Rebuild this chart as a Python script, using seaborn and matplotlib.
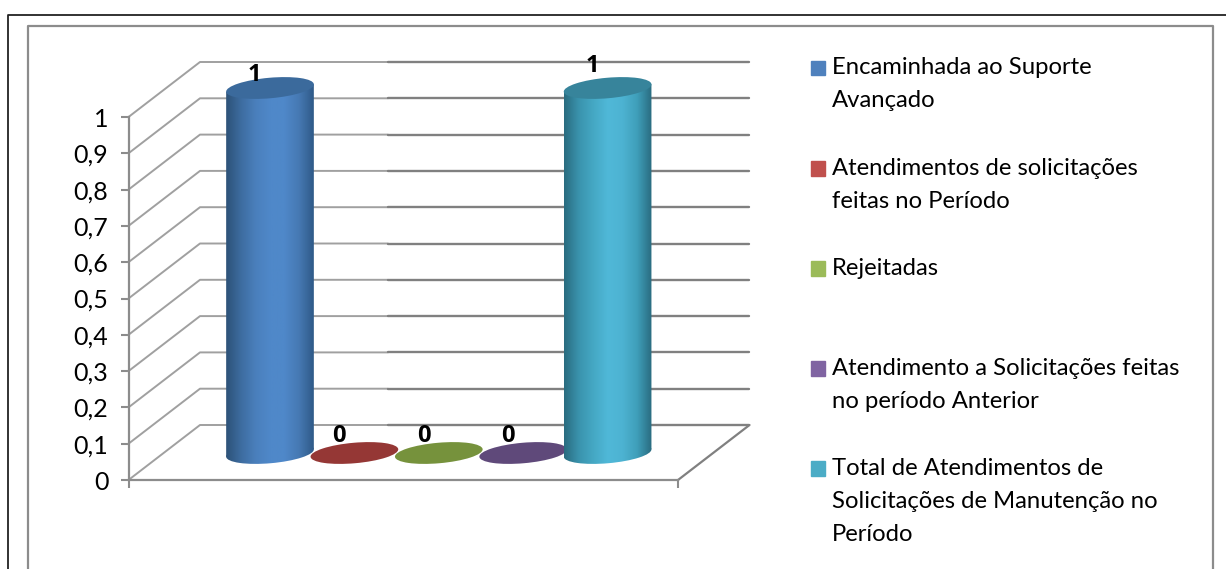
# 3D style cylinder chart, atendimentos no periodo
import numpy as np
import pandas as pd
import matplotlib
matplotlib.use('Agg')
import matplotlib.pyplot as plt
import seaborn as sns
from matplotlib.lines import Line2D
from matplotlib.patches import Ellipse, Patch, Polygon
from matplotlib.transforms import IdentityTransform

categories = ['Encaminhada ao Suporte\nAvançado',
              'Atendimentos de solicitações\nfeitas no Período',
              'Rejeitadas\n ',
              'Atendimento a Solicitações feitas\nno período Anterior',
              'Total de Atendimentos de\nSolicitações de Manutenção no\nPeríodo']
values = [1, 0, 0, 0, 1]
value_labels = ['1', '0', '0', '0', '1']
tick_vals = [0, 0.1, 0.2, 0.3, 0.4, 0.5, 0.6, 0.7, 0.8, 0.9, 1]
tick_labels = ['0', '0,1', '0,2', '0,3', '0,4', '0,5', '0,6', '0,7', '0,8', '0,9', '1']
legend_colors = ['#4f81bd', '#c0504d', '#9bbb59', '#8064a2', '#4bacc6']
top_colors = ['#3b6a9c', '#953735', '#76923c', '#5f497a', '#37849b']
body_ramps = [['#2d5278', '#3d6c9f', '#4a7fbc', '#4f88c9', '#4f88c9', '#4679b3', '#2f5a88'],
              ['#953735'] * 2, ['#76923c'] * 2, ['#5f497a'] * 2,
              ['#2a6c80', '#3a93ad', '#45a8c4', '#50b8d8', '#4db3d2', '#3f9fba', '#2a6c80']]
label_dy = [13, 17, 17, 17, 22]

W, H = 1226, 569
GREY = '#8c8c8c'

sns.set_theme(style='white')
plt.rcParams['font.family'] = ['Lato', 'DejaVu Sans']

fig = plt.figure(figsize=(W / 100, H / 100), dpi=100, facecolor='white')


def px_axes(x0, x1, y_bottom, y_top):
    return fig.add_axes([x0 / W, 1 - y_bottom / H, (x1 - x0) / W, (y_bottom - y_top) / H])


# front plane of the box, has the axis and the wall lines
ax = px_axes(128.5, 678, 480, 117)
ax.set_xlim(-0.5, 4.5)
ax.set_ylim(0, 1)
ax.set_yticks(tick_vals)
ax.set_yticklabels(tick_labels, fontsize=18, color='black')
ax.set_xticks([-0.5, 4.5])
ax.set_xticklabels([])
ax.tick_params(axis='both', length=5.5, width=1.5, color=GREY, left=True, bottom=True, pad=9)
for side in ['top', 'right']:
    ax.spines[side].set_visible(False)
for side in ['left', 'bottom']:
    ax.spines[side].set_color(GREY)
    ax.spines[side].set_linewidth(1.6)

depth_x = 71.5 / 109.9
depth_y = 55 / 363
split_x = 1.86
for t in tick_vals:
    ax.plot([-0.5, -0.5 + depth_x, split_x], [t, t + depth_y, t + depth_y],
            color='#a0a0a0', lw=1.4, clip_on=False, zorder=1)
    ax.plot([split_x, 4.5 + depth_x], [t + depth_y, t + depth_y],
            color='#808080', lw=1.7, clip_on=False, zorder=1)
ax.plot([4.5, 4.5 + depth_x], [0, depth_y], color='#808080', lw=1.6, clip_on=False, zorder=1)

# cylinders sit on their own plane inside the box
cx0, step, base_y, top_y = 270, 84.4, 453, 88
unit = base_y - top_y
ax2 = px_axes(cx0 - step, cx0 + 5 * step, base_y + 0.05 * unit, top_y - 0.05 * unit)
df = pd.DataFrame({'categoria': categories, 'valor': values})
sns.barplot(data=df, x='categoria', y='valor', hue='categoria', palette=legend_colors,
            width=1.04, dodge=False, saturation=1, legend=False, ax=ax2)
ax2.set_xlim(-1, 5)
ax2.set_ylim(-0.05, 1.05)
ax2.axis('off')

ell_w, ell_h, ell_angle = 88, 20.5, 5
tilt = np.array([np.cos(np.radians(ell_angle)), np.sin(np.radians(ell_angle))]) * ell_w / 2
for i, bar in enumerate(ax2.patches):
    x0 = bar.get_x()
    x1 = x0 + bar.get_width()
    v = bar.get_height()
    xc = (x0 + x1) / 2
    cmap = sns.blend_palette(body_ramps[i], as_cmap=True)
    grad = np.linspace(0, 1, 128).reshape(1, -1)
    z = 3 + i
    base_px = ax2.transData.transform((xc, 0))
    top_px = ax2.transData.transform((xc, v))
    bar.set_visible(False)
    if v > 0:
        # body follows the tilt of the caps so no corner pokes out
        base = Ellipse(base_px, ell_w, ell_h, angle=ell_angle, transform=IdentityTransform(),
                       facecolor='none', edgecolor='none')
        body = Polygon([base_px - tilt, base_px + tilt, top_px + tilt, top_px - tilt],
                       transform=IdentityTransform(), facecolor='none', edgecolor='none')
        ax2.add_artist(base)
        ax2.add_artist(body)
        for clip in [body, base]:
            im = ax2.imshow(grad, extent=(x0, x1, -0.05, 1.05), aspect='auto', cmap=cmap, zorder=z)
            im.set_clip_path(clip)
    cap = Ellipse(top_px, ell_w, ell_h, angle=ell_angle, transform=IdentityTransform(),
                  facecolor=top_colors[i], edgecolor='none', zorder=z + 0.5, clip_on=False)
    ax2.add_artist(cap)
    ax2.annotate(value_labels[i], (xc, v), xytext=(-11, label_dy[i] * 0.72), textcoords='offset points',
                 ha='center', va='center', fontsize=17, fontweight='bold', family='Open Sans',
                 color='black', zorder=20)
ax2.set_xlim(-1, 5)
ax2.set_ylim(-0.05, 1.05)

# legend, markers line up with first line of each entry
handles = [Patch(color=c) for c in legend_colors]
leg = fig.legend(handles, categories, loc='upper left', bbox_to_anchor=(811 / W, 1 - 57.5 / H),
                 frameon=False, fontsize=17.2, handlelength=0.586, handleheight=0.586,
                 handletextpad=0.29, labelspacing=1.94, borderpad=0, borderaxespad=0, labelcolor='black')
line_pt = 33 * 0.72
for txt, patch in zip(leg.get_texts(), leg.get_patches()):
    txt.set_linespacing(1.70)
    n = txt.get_text().count('\n')
    patch.set_y(patch.get_y() + n * line_pt * 0.5)

# frame lines of the page and of the chart box
fig.add_artist(Line2D([8 / W, 8 / W, 1], [0, 1 - 14.5 / H, 1 - 14.5 / H], color='#222222', lw=1.3))
fig.add_artist(Line2D([28 / W, 28 / W, 1213 / W, 1213 / W], [0, 1 - 25.5 / H, 1 - 25.5 / H, 0], color=GREY, lw=1.6))

fig.savefig('out.png', dpi=100)
plt.close(fig)
